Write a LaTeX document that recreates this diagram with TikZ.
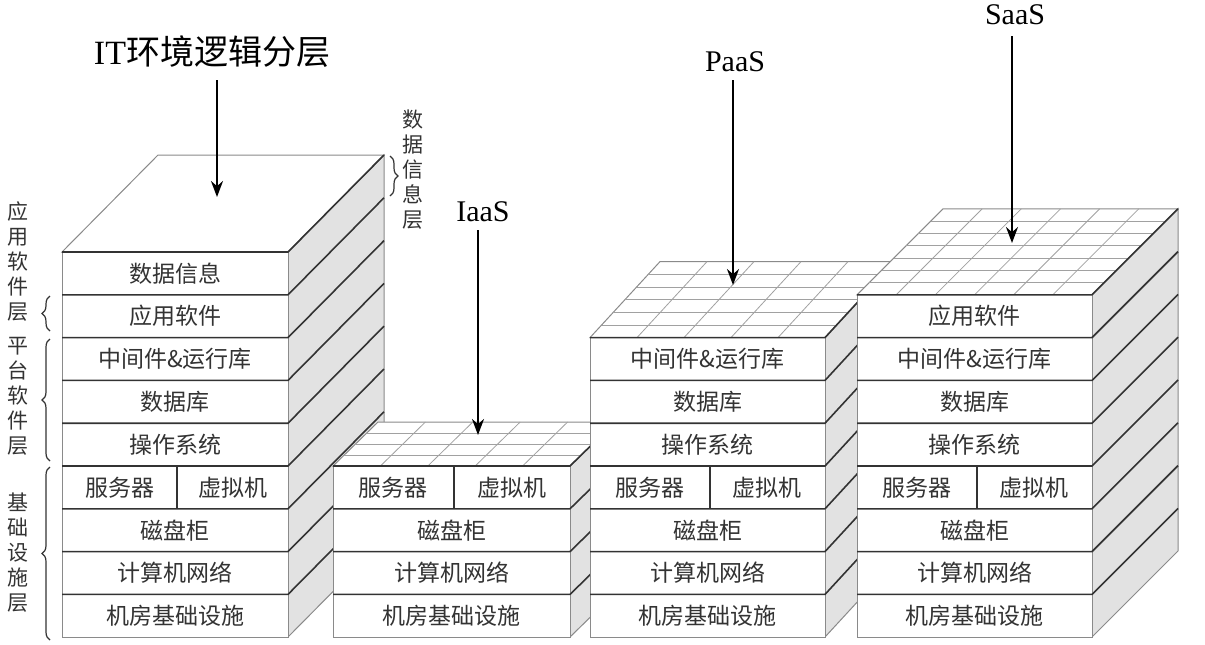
\documentclass[tikz,border=0pt]{standalone}
\usepackage{fontspec}
\setmainfont{Liberation Serif}
\newfontfamily\cjk{Noto Sans CJK SC}
\usetikzlibrary{arrows.meta,decorations.pathreplacing}
\definecolor{txt}{HTML}{333333}
\definecolor{sidegray}{HTML}{E2E2E2}
\definecolor{edge}{HTML}{8A8A8A}
\tikzset{
  lay/.style={draw=txt,line width=0.8pt},
  outl/.style={draw=edge,line width=0.5pt},
  gridl/.style={draw=edge!80,line width=0.4pt},
  cell/.style={font=\cjk\fontsize{11.5}{12}\selectfont,text=txt,inner sep=0pt},
  vlab/.style={font=\cjk\fontsize{10.5}{12.5}\selectfont,text=txt,align=center,inner sep=0pt},
  arr/.style={-{Stealth[length=8pt,width=6pt]},line width=1.1pt,black},
  ttl/.style={font=\fontsize{15}{16}\selectfont,text=black,inner sep=0pt},
  br/.style={decorate,decoration={brace,amplitude=4pt},draw=txt,line width=0.6pt}
}
% \stk{L}{R}{topindex}{dx}{dy}{rows}{cols}
\newcommand{\stk}[7]{%
  \pgfmathsetmacro\T{252+42.8*#3}%
  \fill[sidegray] (#2,\T) -- (#2+#4,\T-#5) -- (#2+#4,637-#5) -- (#2,637) -- cycle;
  \draw[outl] (#2,\T) -- (#2+#4,\T-#5) -- (#2+#4,637-#5) -- (#2,637);
  \filldraw[fill=white,outl] (#1,\T) -- (#2,\T) -- (#2+#4,\T-#5) -- (#1+#4,\T-#5) -- cycle;
  \ifnum#6>0
    \foreach \k in {1,...,\numexpr#6-1\relax}{%
      \draw[gridl] ({#1+#4*\k/#6},{\T-#5*\k/#6}) -- ({#2+#4*\k/#6},{\T-#5*\k/#6});}
    \foreach \j in {1,...,\numexpr#7-1\relax}{%
      \draw[gridl] ({#1+(#2-#1)*\j/#7},\T) -- ({#1+(#2-#1)*\j/#7+#4},\T-#5);}
  \fi
  \filldraw[fill=white,outl] (#1,\T) rectangle (#2,637);
  \foreach \i in {#3,...,8}{%
    \pgfmathsetmacro\yy{252+42.8*\i}%
    \draw[lay] (#1,\yy) -- (#2,\yy) -- (#2+#4,\yy-#5);}
}
\newcommand{\rowtxt}[4]{% L R index text
  \pgfmathsetmacro\yc{252+42.8*#3+21.4}%
  \node[cell] at ({(#1+#2)/2},\yc) {#4};}
\newcommand{\splitrow}[2]{% L R
  \pgfmathsetmacro\dv{#1+0.51*(#2-#1)}%
  \draw[lay] (\dv,466) -- (\dv,508.8);
  \node[cell] at ({(#1+\dv)/2},487.4) {服务器};
  \node[cell] at ({(\dv+#2)/2},487.4) {虚拟机};}
\begin{document}
\begin{tikzpicture}[x=0.5pt,y=-0.5pt]
\useasboundingbox (0,0) rectangle (1205,644);
% left stack
\stk{62}{288}{0}{96}{97}{0}{0}
\rowtxt{62}{288}{0}{数据信息}
\rowtxt{62}{288}{1}{应用软件}
\rowtxt{62}{288}{2}{中间件\&运行库}
\rowtxt{62}{288}{3}{数据库}
\rowtxt{62}{288}{4}{操作系统}
\splitrow{62}{288}
\rowtxt{62}{288}{6}{磁盘柜}
\rowtxt{62}{288}{7}{计算机网络}
\rowtxt{62}{288}{8}{机房基础设施}
% IaaS
\stk{333}{570}{5}{45}{44}{4}{5}
\splitrow{333}{570}
\rowtxt{333}{570}{6}{磁盘柜}
\rowtxt{333}{570}{7}{计算机网络}
\rowtxt{333}{570}{8}{机房基础设施}
% PaaS
\stk{590}{825}{2}{70}{76}{6}{5}
\rowtxt{590}{825}{2}{中间件\&运行库}
\rowtxt{590}{825}{3}{数据库}
\rowtxt{590}{825}{4}{操作系统}
\splitrow{590}{825}
\rowtxt{590}{825}{6}{磁盘柜}
\rowtxt{590}{825}{7}{计算机网络}
\rowtxt{590}{825}{8}{机房基础设施}
% SaaS
\stk{857}{1092}{1}{86}{86}{7}{6}
\rowtxt{857}{1092}{1}{应用软件}
\rowtxt{857}{1092}{2}{中间件\&运行库}
\rowtxt{857}{1092}{3}{数据库}
\rowtxt{857}{1092}{4}{操作系统}
\splitrow{857}{1092}
\rowtxt{857}{1092}{6}{磁盘柜}
\rowtxt{857}{1092}{7}{计算机网络}
\rowtxt{857}{1092}{8}{机房基础设施}
% titles and arrows
\node[ttl,font=\fontsize{17}{18}\selectfont] (t0) at (212,52) {IT{\cjk 环境逻辑分层}};
\coordinate (a0) at (217,197);
\draw[arr] (217,80) -- (a0);
\node[ttl] (t1) at (483,212) {IaaS};
\coordinate (a1) at (478,435);
\draw[arr] (478,230) -- (a1);
\node[ttl] (t2) at (735,62) {PaaS};
\coordinate (a2) at (733,285);
\draw[arr] (733,80) -- (a2);
\node[ttl] (t3) at (1015,15) {SaaS};
\coordinate (a3) at (1012,243);
\draw[arr] (1012,36) -- (a3);
% side labels
\node[vlab] (l1) at (18,262) {应\\用\\软\\件\\层};
\node[vlab] (l2) at (18,396) {平\\台\\软\\件\\层};
\node[vlab] (l3) at (18,553) {基\\础\\设\\施\\层};
\node[vlab] (l4) at (413,170) {数\\据\\信\\息\\层};
\coordinate (b1s) at (50,331); \coordinate (b1e) at (50,296);
\coordinate (b2s) at (50,461); \coordinate (b2e) at (50,339);
\coordinate (b3s) at (50,640); \coordinate (b3e) at (50,467);
\coordinate (b4s) at (390,156); \coordinate (b4e) at (390,196);
\draw[br] (b1s) -- (b1e);
\draw[br] (b2s) -- (b2e);
\draw[br] (b3s) -- (b3e);
\draw[br] (b4s) -- (b4e);
\end{tikzpicture}
\end{document}
